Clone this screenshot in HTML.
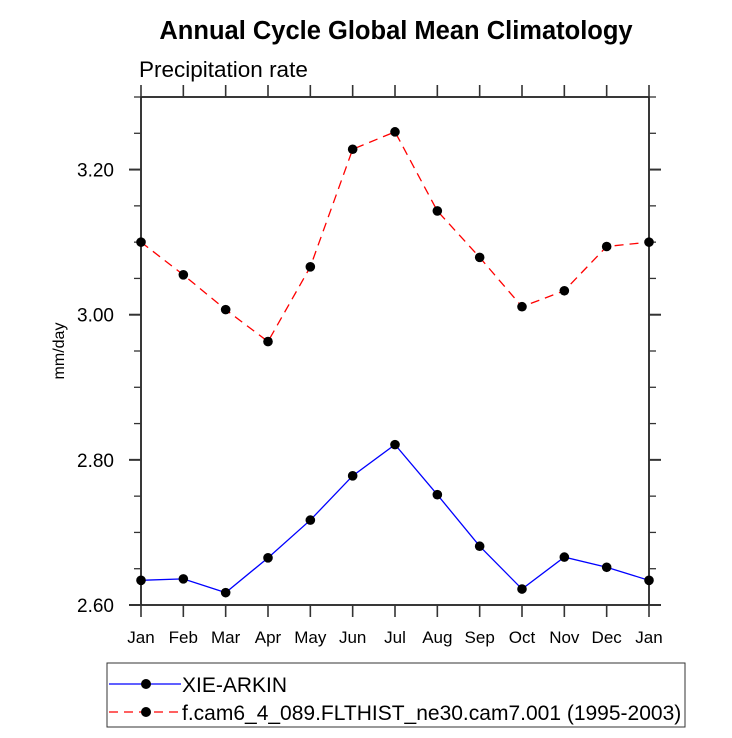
<!DOCTYPE html>
<html><head><meta charset="utf-8"><style>
body{margin:0;background:#fff;}
svg{display:block;font-family:"Liberation Sans",sans-serif;}
</style></head><body>
<svg id="c" width="732" height="738" viewBox="0 0 732 738">
<text x="396" y="39" text-anchor="middle" font-size="25.5" font-weight="bold">Annual Cycle Global Mean Climatology</text>
<text x="139" y="77" font-size="22.5">Precipitation rate</text>
<text transform="translate(64,351) rotate(-90)" text-anchor="middle" font-size="16">mm/day</text>
<g id="ax"></g>
<g id="marks"></g>
<rect x="107" y="663" width="578" height="64" fill="none" stroke="#333" stroke-width="1"/>
<g>
<line x1="109" y1="684" x2="181" y2="684" stroke="#0000ff" stroke-width="1.3"/>
<circle cx="146" cy="684" r="5" fill="#000"/>
<text x="182" y="692" font-size="21">XIE-ARKIN</text></g>
<g>
<line x1="109" y1="712" x2="181" y2="712" stroke="#ff0000" stroke-width="1.3" stroke-dasharray="9,6"/>
<circle cx="146" cy="712" r="5" fill="#000"/>
<text x="182" y="720" font-size="21">f.cam6_4_089.FLTHIST_ne30.cam7.001 (1995-2003)</text></g>
</svg>
<script>
const months=["Jan","Feb","Mar","Apr","May","Jun","Jul","Aug","Sep","Oct","Nov","Dec","Jan"];
const obsValues=[2.634,2.636,2.617,2.665,2.717,2.778,2.821,2.752,2.681,2.622,2.666,2.652,2.634];
const modelValues=[3.100,3.055,3.007,2.963,3.066,3.228,3.252,3.143,3.079,3.011,3.033,3.094,3.100];
const yTicks=[2.60,2.80,3.00,3.20];
const yTickLabels=["2.60","2.80","3.00","3.20"];
const NS="http://www.w3.org/2000/svg";
const L=141,R=649,T=97,B=605,YMIN=2.6,YMAX=3.3;
const xs=i=>L+i*(R-L)/12;
const ys=v=>B-(v-YMIN)/(YMAX-YMIN)*(B-T);
function mk(p,tag,a){const e=document.createElementNS(NS,tag);for(const k in a)e.setAttribute(k,a[k]);p.appendChild(e);return e;}
const ax=document.getElementById('ax');
const frame=mk(ax,'rect',{x:L,y:T,width:R-L,height:B-T,fill:'none',stroke:'#222','stroke-width':1.8});


for(let v=2.6;v<=3.301;v+=0.05){
  const y=ys(v);const major=Math.abs(((v-2.6)/0.2)-Math.round((v-2.6)/0.2))<1e-6;const len=major?12:7;
  const t1=mk(ax,'line',{x1:L,y1:y,x2:L-len,y2:y,stroke:'#333','stroke-width':major?2:1.3});
  
  
  const t2=mk(ax,'line',{x1:R,y1:y,x2:R+len,y2:y,stroke:'#333','stroke-width':major?2:1.3});
  
  
}
yTicks.forEach((v,i)=>{
  const t=mk(ax,'text',{x:114,y:ys(v)+7,'text-anchor':'end','font-size':19});t.textContent=yTickLabels[i];
  
  
});
months.forEach((m,i)=>{
  const x=xs(i);
  const a=mk(ax,'line',{x1:x,y1:B,x2:x,y2:B+12,stroke:'#333','stroke-width':1.6});
  
  
  const b=mk(ax,'line',{x1:x,y1:T,x2:x,y2:T-12,stroke:'#333','stroke-width':1.6});
  
  
  const t=mk(ax,'text',{x:x,y:643,'text-anchor':'middle','font-size':17});t.textContent=m;
  
  
});
const marks=document.getElementById('marks');
function series(vals,color,dash,name){
  const pts=vals.map((v,i)=>xs(i)+','+ys(v)).join(' ');
  const pl=mk(marks,'polyline',{points:pts,fill:'none',stroke:color,'stroke-width':1.3});
  if(dash)pl.setAttribute('stroke-dasharray',dash);
  
  
  vals.forEach((v,i)=>{
    const c=mk(marks,'circle',{cx:xs(i),cy:ys(v),r:4.8,fill:'#000'});
    
    
  });
}
series(modelValues,'#ff0000','9,6','model');
series(obsValues,'#0000ff',null,'xie-arkin');
</script>
</body></html>
